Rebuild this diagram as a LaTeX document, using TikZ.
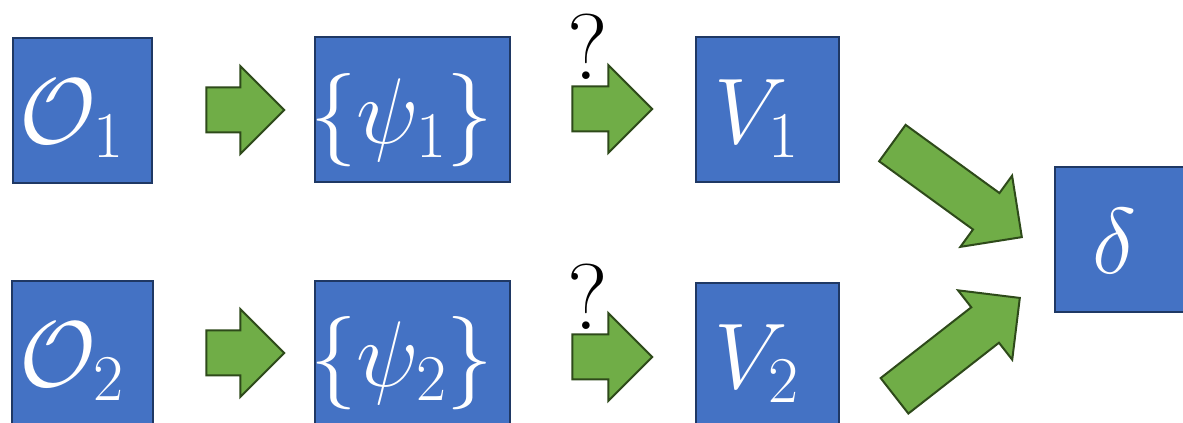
\documentclass[tikz,border=0pt]{standalone}
\usepackage{fix-cm}
\usetikzlibrary{shapes.arrows}
\definecolor{boxblue}{HTML}{4472C4}
\definecolor{boxline}{HTML}{1F3864}
\definecolor{arrgreen}{HTML}{70AD47}
\definecolor{arrline}{HTML}{2E4A1A}
\begin{document}
\begin{tikzpicture}[x=0.75pt,y=-0.75pt,
      block/.style={draw=boxline,fill=boxblue,line width=1.5pt,text=white,
                    minimum height=145*0.75pt,inner sep=0pt,
                    text height=50pt,text depth=0pt,
                    execute at begin node={\hspace*{-16pt}},
                    font=\fontsize{70}{80}\selectfont},
      fatarrow/.style={single arrow,draw=arrline,fill=arrgreen,line width=1.5pt,
                    inner sep=0pt,inner ysep=21.5*0.75pt,minimum width=0pt,
                    single arrow head extend=21.5*0.75pt},
      query/.style={font=\fontsize{70}{80}\selectfont,inner sep=0pt}]
    \useasboundingbox (0,0) rectangle (1183,423);
    \node[block,minimum width=139*0.75pt] (o1) at (82.5,110.5) {$\mathcal{O}_1$};
    \node[block,minimum width=195*0.75pt] (psi1) at (412.5,110) {$\{\psi_1\}$};
    \node[block,minimum width=143*0.75pt] (v1) at (767.5,110) {$V_1$};
    \node[block,minimum width=141*0.75pt] (o2) at (82.5,353.5) {$\mathcal{O}_2$};
    \node[block,minimum width=195*0.75pt] (psi2) at (412.5,353.5) {$\{\psi_2\}$};
    \node[block,minimum width=143*0.75pt] (v2) at (767.5,355.5) {$V_2$};
    \node[block,minimum width=141*0.75pt] (delta) at (1125,240) {$\delta$};
    \node[fatarrow,minimum height=78*0.75pt] (a1) at (234,110) {};
    \node[fatarrow,minimum height=78*0.75pt] (a2) at (234,353) {};
    \node[fatarrow,minimum height=80*0.75pt] (b1) at (601,109) {};
    \node[fatarrow,minimum height=80*0.75pt] (b2) at (601,357) {};
    \node[fatarrow,minimum height=160*0.75pt,rotate=-36] (c1) at (948,183.5) {};
    \node[fatarrow,minimum height=159*0.75pt,rotate=38] (c2) at (948.3,353.8) {};
    \node[query] (q1) at (588,47) {?};
    \node[query] (q2) at (588,297) {?};
\end{tikzpicture}
\end{document}
